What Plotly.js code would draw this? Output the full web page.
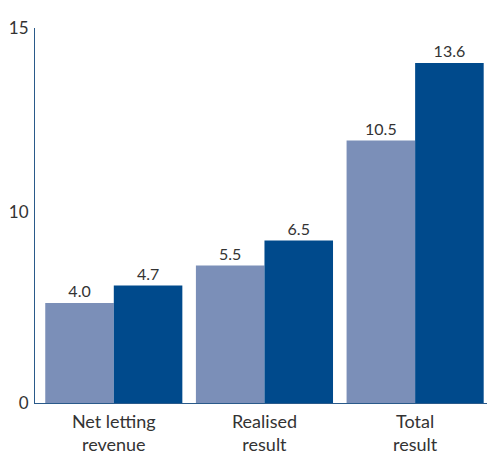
<!DOCTYPE html>
<html>
<head>
<meta charset="utf-8">
<script src="https://cdn.plot.ly/plotly-3.0.1.min.js"></script>
<style>html,body{margin:0;padding:0;background:#fff;}#chart{width:487px;height:456px;}</style>
</head>
<body>
<div id="chart"></div>
<script>
var categories = ["Net letting<br>revenue", "Realised<br>result", "Total<br>result"];
var seriesPrev = [4.0, 5.5, 10.5];
var seriesCurr = [4.7, 6.5, 13.6];
var tickText = ["0", "10", "15"];
var tickPos = [0, 7.65, 15];

var fontFam = "Lato, 'Open Sans', sans-serif";
var traces = [
  {type: "bar", x: categories, y: seriesPrev, name: "prev",
   marker: {color: "#7b8fb8"},
   text: seriesPrev.map(function(v){return v.toFixed(1);}),
   textposition: "outside", cliponaxis: false,
   textfont: {family: fontFam, size: 16, color: "#333"}},
  {type: "bar", x: categories, y: seriesCurr, name: "curr",
   marker: {color: "#004a8c"},
   text: seriesCurr.map(function(v){return v.toFixed(1);}),
   textposition: "outside", cliponaxis: false,
   textfont: {family: fontFam, size: 16, color: "#333"}}
];
var layout = {
  width: 487, height: 456,
  margin: {l: 35, r: 0, t: 28, b: 53},
  showlegend: false,
  barmode: "group", bargap: 0.09, bargroupgap: 0,
  paper_bgcolor: "#fff", plot_bgcolor: "#fff",
  font: {family: fontFam, color: "#333"},
  xaxis: {showline: true, linecolor: "#2a5a8a", linewidth: 1, ticks: "",
          tickfont: {family: fontFam, size: 18, color: "#333"},
          ticklabelstandoff: 2,
          showgrid: false, zeroline: false, range: [-0.523, 2.477]},
  yaxis: {range: [0, 15], showline: true, linecolor: "#2a5a8a", linewidth: 1,
          ticks: "", showgrid: false, zeroline: false,
          tickmode: "array", tickvals: tickPos, ticktext: tickText,
          tickfont: {family: fontFam, size: 17, color: "#333"}, ticklabelstandoff: 2}
};
Plotly.newPlot("chart", traces, layout, {staticPlot: true});
</script>
</body>
</html>
